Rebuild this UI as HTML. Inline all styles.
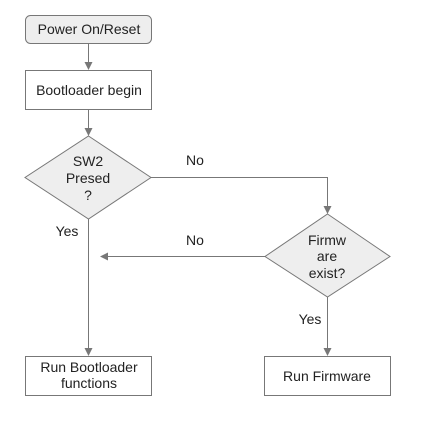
<!DOCTYPE html>
<html><head><style>body{margin:0;background:#fff}</style></head><body>
<svg width="447" height="422" xmlns="http://www.w3.org/2000/svg" style="font-family:'Liberation Sans',Arial,sans-serif;font-size:14px">
<defs><marker id="a" markerWidth="8" markerHeight="8" refX="7" refY="4" orient="auto" markerUnits="userSpaceOnUse"><path d="M0,0 L8,4 L0,8 Z" fill="#777"/></marker></defs>
<g stroke="#777" stroke-width="1" fill="none">
<line x1="88.5" y1="43" x2="88.5" y2="69" marker-end="url(#a)"/>
<line x1="88.5" y1="109" x2="88.5" y2="135" marker-end="url(#a)"/>
<polyline points="151,177.5 327.5,177.5 327.5,213" marker-end="url(#a)"/>
<line x1="265" y1="256.5" x2="101" y2="256.5" marker-end="url(#a)"/>
<line x1="88.5" y1="219" x2="88.5" y2="355" marker-end="url(#a)"/>
<line x1="327.5" y1="297" x2="327.5" y2="355" marker-end="url(#a)"/>
</g>
<rect x="25.5" y="15.5" width="126" height="28" rx="5" fill="#eee" stroke="#777"/>
<rect x="25.5" y="70.5" width="126" height="39" fill="#fff" stroke="#777"/>
<polygon points="88.5,136 151,177.5 88.5,219 25,177.5" fill="#eee" stroke="#777"/>
<polygon points="327.5,214 390,256.5 327.5,297 265,256.5" fill="#eee" stroke="#777"/>
<rect x="25.5" y="356.5" width="126" height="39" fill="#fff" stroke="#777"/>
<rect x="264.5" y="356.5" width="126" height="39" fill="#fff" stroke="#777"/>
<g fill="#222" text-anchor="middle">
<text x="89" y="34">Power On/Reset</text>
<text x="89" y="95">Bootloader begin</text>
<text x="88" y="166">SW2</text>
<text x="88" y="183">Presed</text>
<text x="88" y="200">?</text>
<text x="327" y="245">Firmw</text>
<text x="327" y="261">are</text>
<text x="327" y="278">exist?</text>
<text x="89" y="372">Run Bootloader</text>
<text x="89" y="388">functions</text>
<text x="327" y="381">Run Firmware</text>
<text x="195" y="165">No</text>
<text x="195" y="245">No</text>
<text x="67" y="236">Yes</text>
<text x="310" y="324">Yes</text>
</g>
</svg>
</body></html>
